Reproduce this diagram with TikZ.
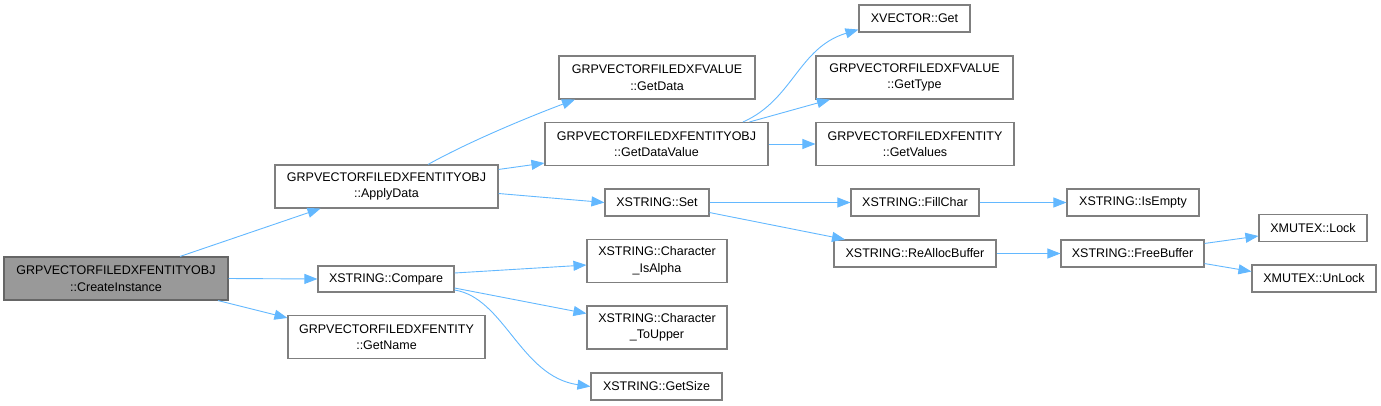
\documentclass[tikz,border=0pt]{standalone}
\usepackage{fontspec}
\setmainfont{Liberation Sans}
\usepackage{tikz}
\usetikzlibrary{arrows.meta}

\definecolor{edgeblue}{HTML}{63B8FF}
\definecolor{boxline}{HTML}{7F7F7F}
\definecolor{rootfill}{HTML}{999999}

\tikzset{
  fn/.style={draw=boxline, line width=1.1pt, fill=white, inner sep=0pt,
             align=center, font=\fontsize{12.5}{16.5}\selectfont},
  fnroot/.style={fn, fill=rootfill, draw=boxline!80!black},
  calls/.style={draw=edgeblue, line width=0.9pt,
                -{Triangle[length=13pt,width=10pt]}},
}

\begin{document}
\begin{tikzpicture}[x=1pt, y=-1pt]
  \useasboundingbox (0,0) rectangle (1381,405);

  % caller
  \node[fnroot, minimum width=224pt, minimum height=43pt] (root) at (116,278.5)
    {GRPVECTORFILEDXFENTITYOBJ\\::CreateInstance};

  % first level
  \node[fn, minimum width=223pt, minimum height=43pt] (apply) at (386.5,186.5)
    {GRPVECTORFILEDXFENTITYOBJ\\::ApplyData};
  \node[fn, minimum width=136pt, minimum height=26pt] (cmp) at (386,279)
    {XSTRING::Compare};
  \node[fn, minimum width=197pt, minimum height=43pt] (getname) at (386.5,337)
    {GRPVECTORFILEDXFENTITY\\::GetName};

  % second level
  \node[fn, minimum width=196pt, minimum height=43pt] (getdata) at (657,77.5)
    {GRPVECTORFILEDXFVALUE\\::GetData};
  \node[fn, minimum width=223pt, minimum height=43pt] (gdv) at (656.5,144)
    {GRPVECTORFILEDXFENTITYOBJ\\::GetDataValue};
  \node[fn, minimum width=104pt, minimum height=27pt] (set) at (657,202.5)
    {XSTRING::Set};
  \node[fn, minimum width=140pt, minimum height=43pt] (isalpha) at (657,261)
    {XSTRING::Character\\\_IsAlpha};
  \node[fn, minimum width=140pt, minimum height=43pt] (toupper) at (657,327.5)
    {XSTRING::Character\\\_ToUpper};
  \node[fn, minimum width=131pt, minimum height=27pt] (getsize) at (656.5,386.5)
    {XSTRING::GetSize};

  % third level
  \node[fn, minimum width=111pt, minimum height=27pt] (xvget) at (914.5,18.5)
    {XVECTOR::Get};
  \node[fn, minimum width=197pt, minimum height=43pt] (gettype) at (914.5,77.5)
    {GRPVECTORFILEDXFVALUE\\::GetType};
  \node[fn, minimum width=198pt, minimum height=43pt] (getvalues) at (915,144)
    {GRPVECTORFILEDXFENTITY\\::GetValues};
  \node[fn, minimum width=128pt, minimum height=27pt] (fillchar) at (915,202.5)
    {XSTRING::FillChar};
  \node[fn, minimum width=162pt, minimum height=27pt] (realloc) at (915,253.5)
    {XSTRING::ReAllocBuffer};

  % fourth level
  \node[fn, minimum width=132pt, minimum height=27pt] (isempty) at (1133,202.5)
    {XSTRING::IsEmpty};
  \node[fn, minimum width=143pt, minimum height=27pt] (freebuf) at (1132.5,253.5)
    {XSTRING::FreeBuffer};

  % fifth level
  \node[fn, minimum width=108pt, minimum height=27pt] (lock) at (1313,228)
    {XMUTEX::Lock};
  \node[fn, minimum width=124pt, minimum height=27pt] (unlock) at (1314,278.5)
    {XMUTEX::UnLock};

  % calls
  \draw[calls] ([xshift=64pt]root.north) -- ([xshift=-66pt]apply.south);
  \draw[calls] (root.east) -- (cmp.west);
  \draw[calls] ([xshift=102pt]root.south) -- ([yshift=-3pt]getname.north west);

  \draw[calls] ([xshift=41.5pt]apply.north) .. controls +(45,-25) and +(-40,15) .. ([xshift=-82pt]getdata.south);
  \draw[calls] ([yshift=-5pt]apply.north east) -- ([yshift=3pt]gdv.south west);
  \draw[calls] ([yshift=-7pt]apply.east) -- (set.west);

  \draw[calls] ([xshift=86.5pt]gdv.north) .. controls +(50,-22) and +(-60,18) .. ([yshift=3pt]xvget.south west);
  \draw[calls] ([xshift=93pt]gdv.north) -- ([xshift=-84.5pt]gettype.south);
  \draw[calls] (gdv.east) -- (getvalues.west);

  \draw[calls] (set.east) -- (fillchar.west);
  \draw[calls] ([yshift=4pt]set.south east) -- ([xshift=-70pt]realloc.north);
  \draw[calls] (fillchar.east) -- (isempty.west);
  \draw[calls] (realloc.east) -- (freebuf.west);
  \draw[calls] ([yshift=-4pt]freebuf.north east) -- ([yshift=-8pt]lock.west);
  \draw[calls] ([yshift=4pt]freebuf.south east) -- ([yshift=7pt]unlock.west);

  \draw[calls] ([yshift=6pt]cmp.east) -- ([yshift=-4pt]isalpha.west);
  \draw[calls] ([yshift=-9pt]cmp.east) -- ([yshift=14pt]toupper.west);
  \draw[calls] ([yshift=-11pt]cmp.east) .. controls +(50,8) and +(-70,-10) .. (getsize.west);
\end{tikzpicture}
\end{document}
